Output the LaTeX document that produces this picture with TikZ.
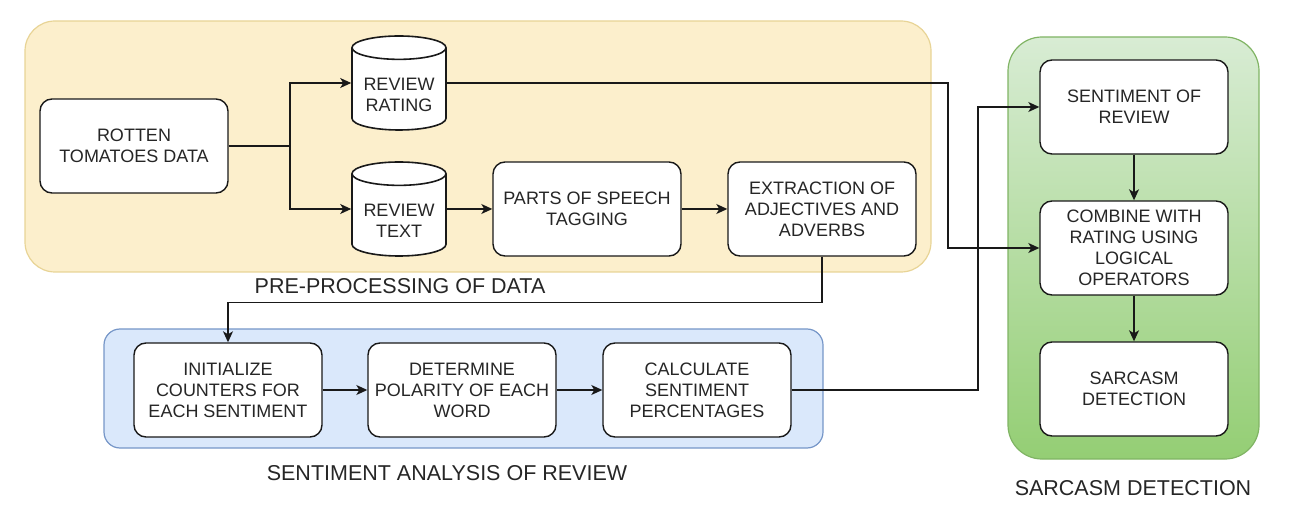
\documentclass[tikz,border=0pt]{standalone}
\usepackage{fontspec}
\setmainfont{Liberation Sans}
\usepackage{xcolor}
\usepackage{tikz}
\usetikzlibrary{shapes, arrows.meta, positioning, calc}

\definecolor{prefill}{RGB}{252,239,204}
\definecolor{preline}{RGB}{232,212,150}
\definecolor{safill}{RGB}{218,232,251}
\definecolor{saline}{RGB}{118,150,200}
\definecolor{sdtop}{RGB}{216,236,212}
\definecolor{sdbottom}{RGB}{148,206,116}
\definecolor{sdline}{RGB}{128,180,100}
\definecolor{txt}{RGB}{38,38,38}

\newcommand{\lowtext}{\rule{0pt}{21pt}}

\tikzset{
    stepbox/.style={draw=black!90, line width=1.4pt, fill=white, rounded corners=12pt,
        minimum width=188pt, minimum height=94pt, align=center, inner sep=1pt,
        text=txt, font=\fontsize{18}{21}\selectfont},
    store/.style={cylinder, shape border rotate=90, aspect=0.32, draw=black!90,
        line width=1.6pt, fill=white, minimum width=94pt, minimum height=94pt,
        align=center, inner sep=1pt, text=txt, font=\fontsize{18}{21}\selectfont,
        anchor=shape center},
    flow/.style={line width=1.3pt, black!90, -{Stealth[length=11pt, width=10pt, inset=3pt]}},
    link/.style={line width=1.3pt, black!90},
    grouplabel/.style={text=txt, font=\fontsize{21.5}{25}\selectfont}
}

\begin{document}
\begin{tikzpicture}[x=1pt, y=-1pt]
    \useasboundingbox (0,0) rectangle (1306,510);

    % Group backgrounds
    \draw[preline, fill=prefill, line width=1.2pt, rounded corners=30pt] (25,21) rectangle (931,272);
    \draw[saline, fill=safill, line width=1.2pt, rounded corners=16pt] (104,329) rectangle (823,448);
    \draw[sdline, top color=sdtop, bottom color=sdbottom, line width=1.2pt, rounded corners=34pt] (1008,37) rectangle (1259,459);

    % Group labels
    \node[grouplabel] (prelabel) at (400,286) {PRE-PROCESSING OF DATA};
    \node[grouplabel] (salabel) at (447,473) {SENTIMENT ANALYSIS OF REVIEW};
    \node[grouplabel] (sdlabel) at (1133,488) {SARCASM DETECTION};

    % Pre-processing
    \node[stepbox] (data) at (134,146) {ROTTEN\\TOMATOES DATA};
    \node[store] (rating) at (399,83) {\lowtext REVIEW\\RATING};
    \node[store] (text) at (399,209) {\lowtext REVIEW\\TEXT};
    \node[stepbox] (pos) at (587,209) {PARTS OF SPEECH\\TAGGING};
    \node[stepbox] (extract) at (822,209) {EXTRACTION OF\\ADJECTIVES AND\\ADVERBS};

    % Sentiment analysis
    \node[stepbox] (init) at (228,390) {INITIALIZE\\COUNTERS FOR\\EACH SENTIMENT};
    \node[stepbox] (polarity) at (462,390) {DETERMINE\\POLARITY OF EACH\\WORD};
    \node[stepbox] (percent) at (697,390) {CALCULATE\\SENTIMENT\\PERCENTAGES};

    % Sarcasm detection
    \node[stepbox] (sentiment) at (1134,107) {SENTIMENT OF\\REVIEW};
    \node[stepbox] (combine) at (1134,248) {COMBINE WITH\\RATING USING\\LOGICAL\\OPERATORS};
    \node[stepbox] (sarcasm) at (1134,389) {SARCASM\\DETECTION};

    % Turning points
    \coordinate (fork) at (290,146);
    \coordinate (ratejog) at (948,0);
    \coordinate (sentjog) at (978,0);

    % Connectors
    \draw[link] (data.east) -- (fork);
    \draw[flow] (fork) |- (rating.west |- rating.shape center);
    \draw[flow] (fork) |- (text.west |- text.shape center);
    \draw[flow] (text.east |- text.shape center) -- (pos.west);
    \draw[flow] (pos.east) -- (extract.west);
    \draw[flow] (rating.east |- rating.shape center) -- (rating.shape center -| ratejog) |- (combine.west);
    \draw[flow] (extract.south) -- ++(0,46) -| (init.north);
    \draw[flow] (init.east) -- (polarity.west);
    \draw[flow] (polarity.east) -- (percent.west);
    \draw[flow] (percent.east) -- (percent.east -| sentjog) |- (sentiment.west);
    \draw[flow] (sentiment.south) -- (combine.north);
    \draw[flow] (combine.south) -- (sarcasm.north);
\end{tikzpicture}
\end{document}
